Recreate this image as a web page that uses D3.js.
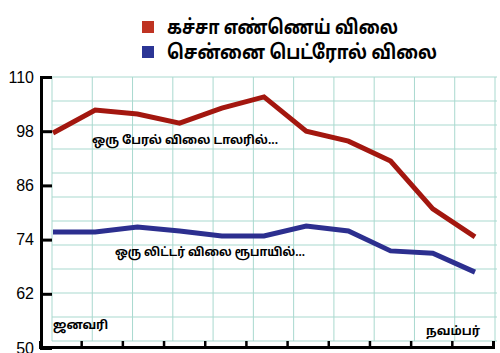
<!DOCTYPE html>
<html>
<head>
<meta charset="utf-8">
<style>
  body { margin: 0; background: #fff; }
  text { font-family: "Liberation Sans", Arial, sans-serif; }
  .ta { font-family: "Noto Sans Tamil", "Noto Sans", "Liberation Sans", sans-serif; font-weight: bold; }
</style>
</head>
<body>
<div id="container"></div>
<script src="https://cdn.jsdelivr.net/npm/d3@7"></script>
<script>
// data, Jan..Nov
const months = ["ஜனவரி", "பிப்", "மார்ச்", "ஏப்", "மே", "ஜூன்", "ஜூலை", "ஆக", "செப்", "அக்", "நவம்பர்"];
const crudeUsd = [97.6, 102.7, 101.8, 99.8, 103.1, 105.6, 98.0, 95.8, 91.4, 80.8, 74.6];
const petrolInr = [75.7, 75.7, 76.8, 75.9, 74.8, 74.8, 77.0, 75.9, 71.5, 71.0, 66.8];
const yTicks = [50, 62, 74, 86, 98, 110];
const legendNames = ["கச்சா எண்ணெய் விலை", "சென்னை பெட்ரோல் விலை"];

const width = 500, height = 353;

const svg = d3.create("svg")
    .attr("width", width)
    .attr("height", height);

svg.append("rect").attr("width", width).attr("height", height).attr("fill", "#fff");

const y = d3.scaleLinear().domain([50, 110]).range([348, 77]);
const x = d3.scalePoint().domain(d3.range(months.length)).range([53, 475]);
const xt = d3.scaleLinear().domain([0, 11]).range([40, 493]);

// background grid (12 x 12 lines)
const gx = d3.scaleLinear().domain([0, 11]).range([52, 495]);
const gy = d3.scaleLinear().domain([0, 11]).range([77, 341]);
const grid = svg.append("g").attr("stroke", "#a9d9cf").attr("stroke-width", 1);
grid.selectAll(".v").data(d3.range(12)).enter().append("line")
    .attr("x1", d => gx(d)).attr("x2", d => gx(d))
    .attr("y1", 77).attr("y2", 341);
grid.selectAll(".h").data(d3.range(12)).enter().append("line")
    .attr("x1", 52).attr("x2", 497)
    .attr("y1", d => gy(d)).attr("y2", d => gy(d));

// y axis
const yAxis = svg.append("g")
    .attr("transform", "translate(41,0)")
    .call(d3.axisLeft(y).tickValues(yTicks).tickSize(-11).tickPadding(8));
yAxis.select(".domain").attr("stroke", "#000").attr("stroke-width", 3);
yAxis.selectAll(".tick line").attr("stroke", "#000").attr("stroke-width", 3);
yAxis.selectAll(".tick text")
    .attr("font-size", 16)
    .attr("font-family", "Liberation Sans, Arial, sans-serif")
    .attr("fill", "#000")
    .attr("x", -7);

// x axis
const xAxis = svg.append("g")
    .attr("transform", "translate(0,347)")
    .call(d3.axisBottom(xt).tickValues(d3.range(1, 12)).tickSize(-6).tickFormat(""));
xAxis.select(".domain").attr("stroke", "#000").attr("stroke-width", 3);
xAxis.selectAll(".tick line").attr("stroke", "#000").attr("stroke-width", 2.5);

const line = d3.line().x((d, i) => x(i)).y(d => y(d));

svg.append("path").datum(crudeUsd)
    .attr("d", line)
    .attr("fill", "none")
    .attr("stroke", "#a3170f")
    .attr("stroke-width", 5);

svg.append("path").datum(petrolInr)
    .attr("d", line)
    .attr("fill", "none")
    .attr("stroke", "#2c2f8f")
    .attr("stroke-width", 5);

// notes on the lines
svg.append("text").attr("class", "ta")
    .attr("x", 92).attr("y", 144).attr("font-size", 12)
    .attr("textLength", 186).attr("lengthAdjust", "spacingAndGlyphs")
    .text("ஒரு பேரல் விலை டாலரில்...");
svg.append("text").attr("class", "ta")
    .attr("x", 115).attr("y", 256).attr("font-size", 12)
    .attr("textLength", 190).attr("lengthAdjust", "spacingAndGlyphs")
    .text("ஒரு லிட்டர் விலை ரூபாயில்...");

svg.append("text").attr("class", "ta")
    .attr("x", 53).attr("y", 329).attr("font-size", 12)
    .text(months[0]);
svg.append("text").attr("class", "ta")
    .attr("x", 480).attr("y", 335).attr("font-size", 12)
    .attr("text-anchor", "end")
    .text(months[months.length - 1]);

// legend
const legend = svg.append("g");
const legendColors = ["#bf3322", "#2b3595"];
const legendWidths = [231, 270];
legendNames.forEach((name, i) => {
  legend.append("rect")
      .attr("x", 142).attr("y", 21 + i * 25)
      .attr("width", 12).attr("height", 12)
      .attr("fill", legendColors[i]);
  legend.append("text").attr("class", "ta")
      .attr("x", 167).attr("y", 34 + i * 25)
      .attr("font-size", 20)
      .attr("textLength", legendWidths[i])
      .attr("lengthAdjust", "spacingAndGlyphs")
      .text(name);
});

container.append(svg.node());
</script>
</body>
</html>
